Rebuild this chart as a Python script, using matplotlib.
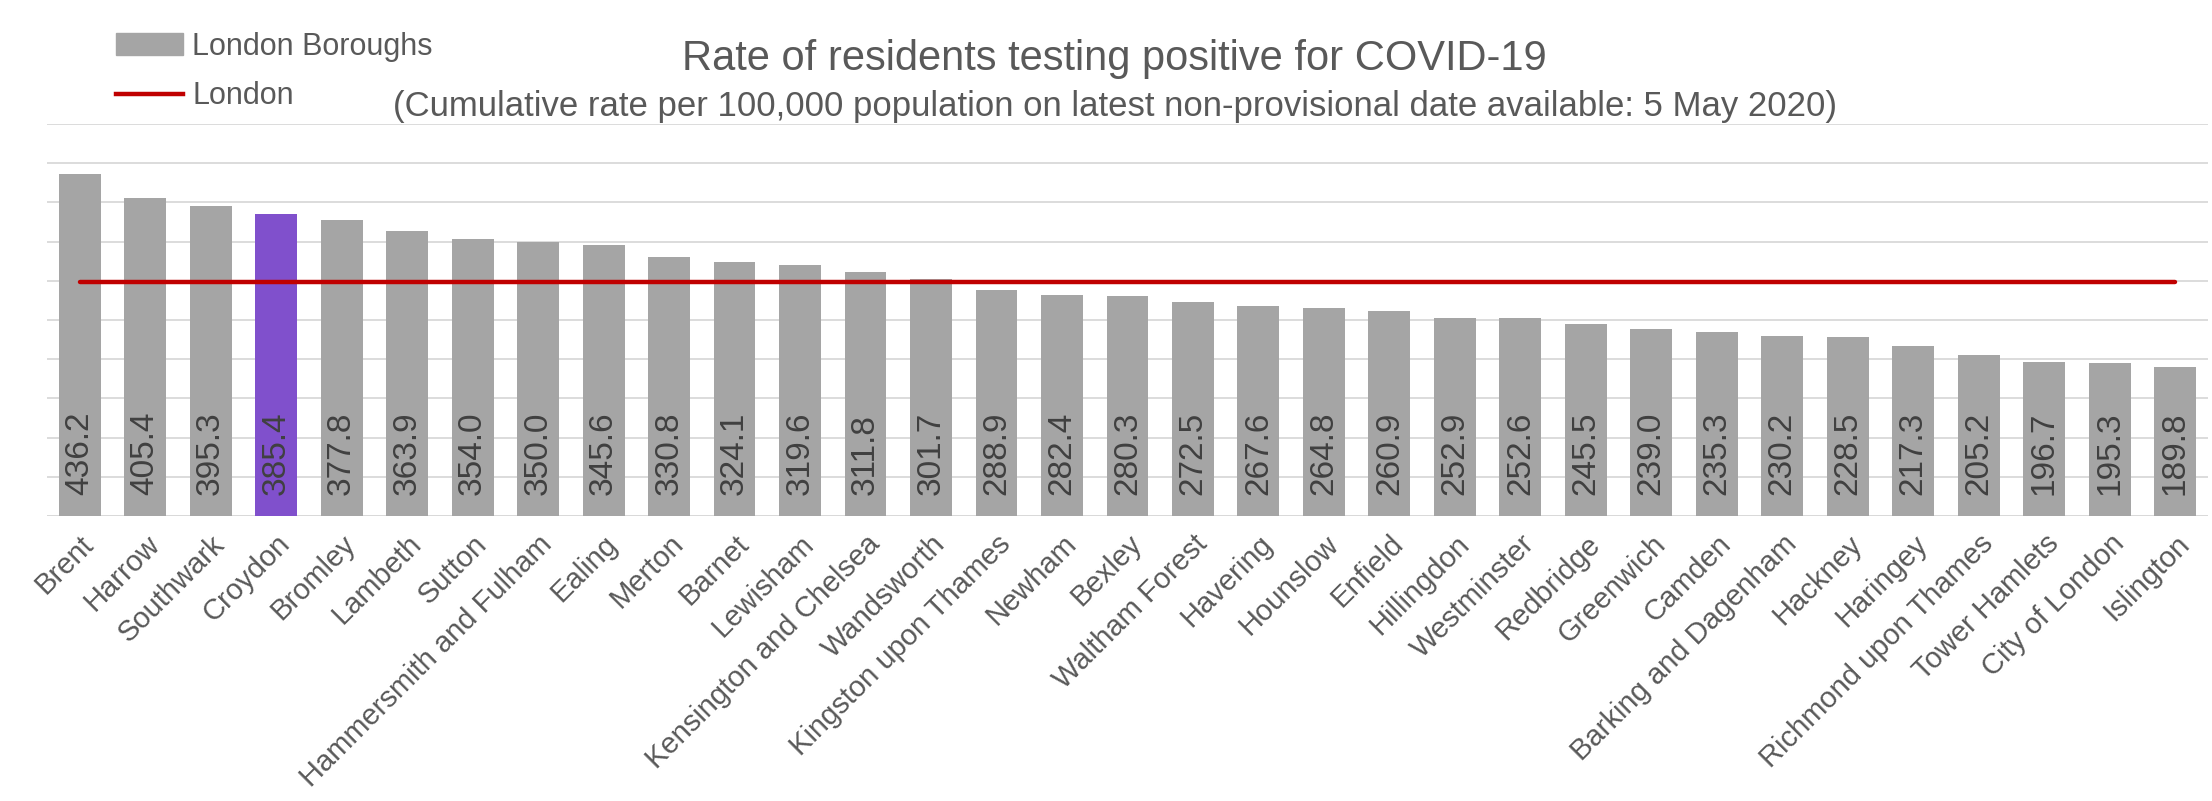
import matplotlib
matplotlib.use("Agg")
import matplotlib.pyplot as plt
from matplotlib.patches import Patch
from matplotlib.lines import Line2D

plt.rcParams['font.family'] = ['Liberation Sans', 'DejaVu Sans']

# boroughs and cumulative rate per 100,000
boroughs = ["Brent", "Harrow", "Southwark", "Croydon", "Bromley", "Lambeth", "Sutton",
            "Hammersmith and Fulham", "Ealing", "Merton", "Barnet", "Lewisham",
            "Kensington and Chelsea", "Wandsworth", "Kingston upon Thames", "Newham",
            "Bexley", "Waltham Forest", "Havering", "Hounslow", "Enfield", "Hillingdon",
            "Westminster", "Redbridge", "Greenwich", "Camden", "Barking and Dagenham",
            "Hackney", "Haringey", "Richmond upon Thames", "Tower Hamlets",
            "City of London", "Islington"]
rates = [436.2, 405.4, 395.3, 385.4, 377.8, 363.9, 354.0, 350.0, 345.6, 330.8, 324.1,
         319.6, 311.8, 301.7, 288.9, 282.4, 280.3, 272.5, 267.6, 264.8, 260.9, 252.9,
         252.6, 245.5, 239.0, 235.3, 230.2, 228.5, 217.3, 205.2, 196.7, 195.3, 189.8]
london_rate = 298.8
highlight = "Croydon"

grey = "#a5a5a5"
purple = "#8050cc"
red = "#c00000"
txt = "#595959"

fig = plt.figure(figsize=(22.12, 8.01), dpi=100)
ax = fig.add_axes([0.0212, 0.356, 0.9770, 0.489])

x = list(range(len(boroughs)))
colors = [purple if b == highlight else grey for b in boroughs]
ax.bar(x, rates, width=0.64, color=colors, zorder=2)
ax.plot([x[0], x[-1]], [london_rate, london_rate], color=red, lw=3.2,
        solid_capstyle='round', zorder=3)

for i, v in zip(x, rates):
    ax.annotate(f"{v:.1f}", (i, 0), xytext=(0, 15), textcoords='offset points',
                rotation=90, ha='center', va='bottom', fontsize=24, color="#404040",
                zorder=4)

ax.set_xlim(-0.5, len(boroughs) - 0.5)
ax.set_ylim(0, 500)
ax.set_yticks(range(0, 501, 50))
ax.yaxis.grid(True, color="#d9d9d9", lw=1.3, zorder=0)
ax.tick_params(axis='y', left=False, labelleft=False)
ax.tick_params(axis='x', length=0, pad=10)
ax.set_xticks(x)
ax.set_xticklabels(boroughs, rotation=45, ha='right', rotation_mode='anchor',
                   fontsize=21, color=txt)
for s in ax.spines.values():
    s.set_visible(False)
ax.axhline(0, color="#d9d9d9", lw=1.3, zorder=1)

fig.text(0.504, 0.926, "Rate of residents testing positive for COVID-19",
         ha='center', va='center', fontsize=30, color=txt)
fig.text(0.504, 0.867, "(Cumulative rate per 100,000 population on latest "
         "non-provisional date available: 5 May 2020)",
         ha='center', va='center', fontsize=25, color=txt)

handles = [Patch(color=grey), Line2D([0], [0], color=red, lw=3.2)]
fig.legend(handles, ["London Boroughs", "London"], loc='upper left',
           bbox_to_anchor=(0.040, 0.995), frameon=False, fontsize=22,
           labelcolor=txt, handlelength=2.2, handletextpad=0.3, labelspacing=0.65)

fig.savefig("out.png", dpi=100)
